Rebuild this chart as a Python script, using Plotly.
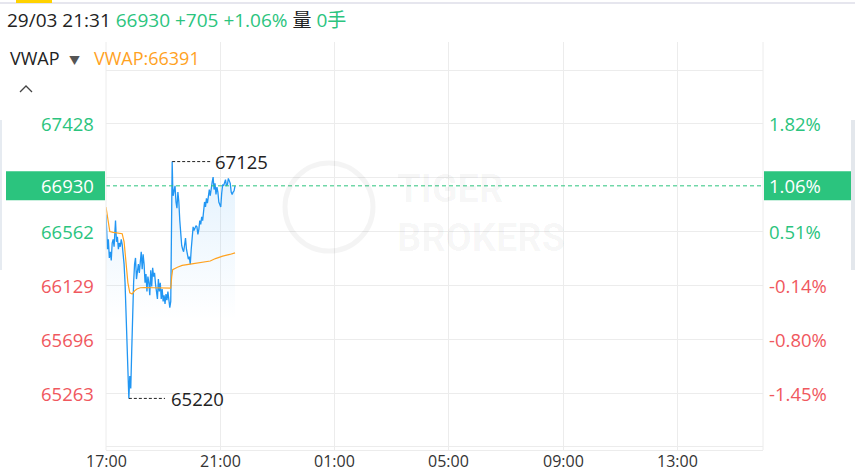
import pandas as pd
import plotly.graph_objects as go

# Session starts 29/03 17:00; offsets are minutes from the open.
SESSION_START = pd.Timestamp("2018-03-29 17:00")
SESSION_END = pd.Timestamp("2018-03-30 16:00")
PREV_CLOSE = 66225
LAST_PRICE = 66930

price_minutes = [
    0, 1, 3, 5, 7, 9, 11, 13, 15, 17, 19, 20, 22, 24, 26, 28, 30, 32, 34, 36,
    38, 40, 42, 44, 46, 47, 48, 50, 52, 54, 56, 58, 60, 62, 64, 66, 68, 70, 72,
    74, 76, 78, 80, 82, 84, 86, 88, 90, 92, 94, 96, 98, 100, 102, 104, 106, 108,
    110, 112, 114, 116, 118, 120, 122, 124, 126, 128, 130, 132, 134, 136, 137,
    138, 139, 140, 141, 143, 145, 147, 149, 151, 153, 155, 157, 159, 161, 163,
    165, 167, 169, 171, 173, 175, 177, 179, 181, 183, 185, 187, 189, 191, 193,
    195, 197, 199, 201, 203, 205, 207, 209, 211, 213, 215, 217, 219, 221, 223,
    225, 227, 229, 231, 233, 235, 237, 239, 241, 243, 245, 247, 249, 251, 253,
    255, 257, 259, 261, 263, 265, 267, 269, 271,
]
price_values = [
    66700, 66560, 66420, 66500, 66350, 66400, 66330, 66470, 66500, 66440,
    66600, 66650, 66480, 66520, 66420, 66470, 66440, 66500, 66460, 66380,
    66300, 66150, 65950, 65700, 65480, 65350, 65220, 65400, 65300, 65600,
    65950, 66150, 66300, 66350, 66180, 66250, 66300, 66230, 66330, 66400,
    66260, 66380, 66300, 66150, 66220, 66080, 66200, 66150, 66050, 66250,
    66120, 66270, 66200, 66230, 66140, 66050, 66020, 66180, 66080, 66150,
    66020, 66100, 66000, 66050, 65980, 66060, 66010, 66080, 66020, 65950,
    66000, 66300, 66700, 67125, 66950, 66850, 66900, 66930, 66800, 66750,
    66880, 66800, 66650, 66500, 66450, 66420, 66400, 66450, 66510, 66420,
    66380, 66340, 66360, 66300, 66420, 66560, 66600, 66570, 66590, 66610,
    66600, 66540, 66580, 66650, 66620, 66680, 66650, 66720, 66800, 66760,
    66830, 66790, 66860, 66900, 66850, 66930, 66960, 67000, 66900, 66950,
    66860, 66920, 66880, 66800, 66770, 66760, 66870, 66940, 66930, 66960,
    66980, 66930, 66940, 66990, 66970, 66950, 66880, 66860, 66880, 66890,
    66930,
]

vwap_minutes = [0, 4, 8, 15, 25, 34, 38, 42, 46, 50, 55, 60, 65, 72, 80, 100,
                120, 136, 138, 140, 150, 160, 177, 200, 219, 230, 245, 260, 271]
vwap_values = [66760, 66640, 66562, 66555, 66550, 66545, 66480, 66300, 66150,
               66070, 66060, 66085, 66100, 66110, 66112, 66110, 66108, 66108,
               66200, 66255, 66275, 66290, 66300, 66315, 66325, 66345, 66365,
               66378, 66391]

# Price axis labels (left) with their change vs previous close (right).
grid_prices = [64830, 65263, 65696, 66129, 66562, 66995, 67428, 67861]
label_prices = [67428, 66562, 66129, 65696, 65263]
label_pcts = ["1.82%", "0.51%", "-0.14%", "-0.80%", "-1.45%"]

tick_times = ["2018-03-29 17:00", "2018-03-29 21:00", "2018-03-30 01:00",
              "2018-03-30 05:00", "2018-03-30 09:00", "2018-03-30 13:00"]
tick_text = ["17:00", "21:00", "01:00", "05:00", "09:00", "13:00"]

GREEN = "#2bc47e"
RED = "#f0585e"
BLUE = "#2196f3"
ORANGE = "#ffa21f"
GRID = "#ececec"
FONT = "Open Sans, Noto Sans CJK SC, sans-serif"
LABEL_SIZE = 18.5

W, H = 855, 472
L, R, T, B = 106, 92, 42, 22
PW, PH = W - L - R, H - T - B


def px(x):
    return (x - L) / PW


def py(y):
    return (H - B - y) / PH


price_x = SESSION_START + pd.to_timedelta(price_minutes, unit="m")
vwap_x = SESSION_START + pd.to_timedelta(vwap_minutes, unit="m")

fig = go.Figure()

fig.add_trace(go.Scatter(
    x=price_x, y=price_values, mode="lines",
    line=dict(color=BLUE, width=1.3),
    fill="tozeroy",
    fillgradient=dict(
        type="vertical",
        colorscale=[[0, "rgba(33,150,243,0)"], [1, "rgba(33,150,243,0.13)"]],
        start=65850, stop=67125,
    ),
    hoverinfo="skip", showlegend=False,
))
fig.add_trace(go.Scatter(
    x=vwap_x, y=vwap_values, mode="lines",
    line=dict(color=ORANGE, width=1.2),
    hoverinfo="skip", showlegend=False,
))

shapes = []
annotations = []

# Max / min markers.
i_max = price_values.index(max(price_values))
i_min = price_values.index(min(price_values))
t_max, t_min = price_x[i_max], price_x[i_min]
shapes.append(dict(type="line", xref="x", yref="y", x0=t_max,
                   x1=t_max + pd.Timedelta(minutes=80), y0=max(price_values),
                   y1=max(price_values),
                   line=dict(color="#222", width=1, dash="3px,2px")))
annotations.append(dict(x=t_max + pd.Timedelta(minutes=85), y=max(price_values),
                        xref="x", yref="y", text=str(max(price_values)),
                        showarrow=False, xanchor="left", yanchor="middle",
                        font=dict(size=LABEL_SIZE, color="#222")))
shapes.append(dict(type="line", xref="x", yref="y", x0=t_min,
                   x1=t_min + pd.Timedelta(minutes=76), y0=min(price_values),
                   y1=min(price_values),
                   line=dict(color="#222", width=1, dash="3px,2px")))
annotations.append(dict(x=t_min + pd.Timedelta(minutes=85), y=min(price_values),
                        xref="x", yref="y", text=str(min(price_values)),
                        showarrow=False, xanchor="left", yanchor="middle",
                        font=dict(size=LABEL_SIZE, color="#222")))

# Last price line and its boxed labels.
shapes.append(dict(type="line", xref="paper", yref="y", x0=0, x1=1,
                   y0=LAST_PRICE, y1=LAST_PRICE,
                   line=dict(color=GREEN, width=1, dash="4px,3px")))
box_half = 14.5 * 8.04
shapes.append(dict(type="rect", xref="paper", yref="y", x0=px(6), x1=px(105),
                   y0=LAST_PRICE - box_half, y1=LAST_PRICE + box_half,
                   fillcolor=GREEN, line=dict(width=0)))
shapes.append(dict(type="rect", xref="paper", yref="y", x0=px(764), x1=px(851),
                   y0=LAST_PRICE - box_half, y1=LAST_PRICE + box_half,
                   fillcolor=GREEN, line=dict(width=0)))
pct_last = (LAST_PRICE - PREV_CLOSE) / PREV_CLOSE * 100
annotations.append(dict(x=px(96), y=LAST_PRICE, xref="paper", yref="y",
                        text=str(LAST_PRICE), showarrow=False, xanchor="right",
                        yanchor="middle",
                        font=dict(size=LABEL_SIZE, color="white")))
annotations.append(dict(x=px(767), y=LAST_PRICE, xref="paper", yref="y",
                        text=f"{pct_last:.2f}%", showarrow=False, xanchor="left",
                        yanchor="middle",
                        font=dict(size=LABEL_SIZE, color="white")))

# Axis labels coloured by direction vs previous close.
for p, pct in zip(label_prices, label_pcts):
    c = GREEN if p >= PREV_CLOSE else RED
    annotations.append(dict(x=px(96), y=p, xref="paper", yref="y", text=str(p),
                            showarrow=False, xanchor="right", yanchor="middle",
                            font=dict(size=LABEL_SIZE, color=c)))
    annotations.append(dict(x=px(767), y=p, xref="paper", yref="y", text=pct,
                            showarrow=False, xanchor="left", yanchor="middle",
                            font=dict(size=LABEL_SIZE, color=c)))

# Time labels under the plot.
for t, label in zip(pd.to_datetime(tick_times), tick_text):
    annotations.append(dict(x=t, y=py(461), xref="x", yref="paper", text=label,
                            showarrow=False, xanchor="center", yanchor="middle",
                            font=dict(size=16, color="#333")))

# Plot frame edges.
shapes.append(dict(type="line", xref="paper", yref="paper", x0=0, x1=0, y0=0,
                   y1=1, line=dict(color=GRID, width=1)))
shapes.append(dict(type="line", xref="paper", yref="paper", x0=1, x1=1, y0=0,
                   y1=1, line=dict(color=GRID, width=1)))

# Page chrome: top tab, divider, side scroll bars, collapse chevron.
shapes.append(dict(type="line", xref="paper", yref="paper", x0=px(0), x1=px(W),
                   y0=py(3), y1=py(3), line=dict(color="#e6e6ee", width=2)))
shapes.append(dict(type="rect", xref="paper", yref="paper", x0=px(16), x1=px(52),
                   y0=py(3), y1=py(0), fillcolor="#ffd200", line=dict(width=0)))
shapes.append(dict(type="rect", xref="paper", yref="paper", x0=px(0), x1=px(2),
                   y0=py(270), y1=py(120), fillcolor="#e6ebf1", line=dict(width=0)))
shapes.append(dict(type="rect", xref="paper", yref="paper", x0=px(851), x1=px(855),
                   y0=py(270), y1=py(120), fillcolor="#e3e7ec", line=dict(width=0)))
shapes.append(dict(type="path", xref="paper", yref="paper",
                   path=f"M {px(20)},{py(92)} L {px(26)},{py(86)} L {px(32)},{py(92)}",
                   line=dict(color="#444", width=1.3)))

# Watermark.
shapes.append(dict(type="circle", xref="paper", yref="paper",
                   x0=px(285), x1=px(373), y0=py(251), y1=py(163),
                   line=dict(color="rgba(0,0,0,0.045)", width=5)))
annotations.append(dict(x=px(395), y=py(214), xref="paper", yref="paper",
                        text="<b>TIGER</b><br><b>BROKERS</b>", showarrow=False,
                        xanchor="left", yanchor="middle", align="left",
                        font=dict(size=38, color="rgba(0,0,0,0.04)", family="Roboto")))

# Header lines.
annotations.append(dict(
    x=px(5), y=py(20), xref="paper", yref="paper", xanchor="left",
    yanchor="middle", showarrow=False, font=dict(size=19, color="#222"),
    text=(f"29/03 21:31 <span style='color:{GREEN}'>66930 +705 +1.06%</span> "
          f"量 <span style='color:{GREEN}'>0手</span>"),
))
annotations.append(dict(
    x=px(8), y=py(58), xref="paper", yref="paper", xanchor="left",
    yanchor="middle", showarrow=False, font=dict(size=18, color="#222"),
    text=(f"VWAP&nbsp;&nbsp;<span style='font-size:11px;color:#555'>▼</span>"
          f"&nbsp;&nbsp;&nbsp;<span style='color:{ORANGE}'>VWAP:66391</span>"),
))

fig.update_layout(
    width=W, height=H,
    margin=dict(l=L, r=R, t=T, b=B),
    paper_bgcolor="white", plot_bgcolor="white",
    font=dict(family=FONT),
    shapes=shapes, annotations=annotations,
    xaxis=dict(
        range=[SESSION_START, SESSION_END],
        tickvals=pd.to_datetime(tick_times), showticklabels=False,
        showgrid=True, gridcolor=GRID, gridwidth=1,
        showline=True, linecolor=GRID, linewidth=1,
        zeroline=False, ticks="", automargin=False,
    ),
    yaxis=dict(
        range=[64805, 68087],
        tickvals=grid_prices, showticklabels=False,
        showgrid=True, gridcolor=GRID, gridwidth=1,
        zeroline=False, ticks="", automargin=False,
    ),
)

fig.write_html("out.html", config={"displayModeBar": False},
               post_script="document.body.style.margin='0';")
